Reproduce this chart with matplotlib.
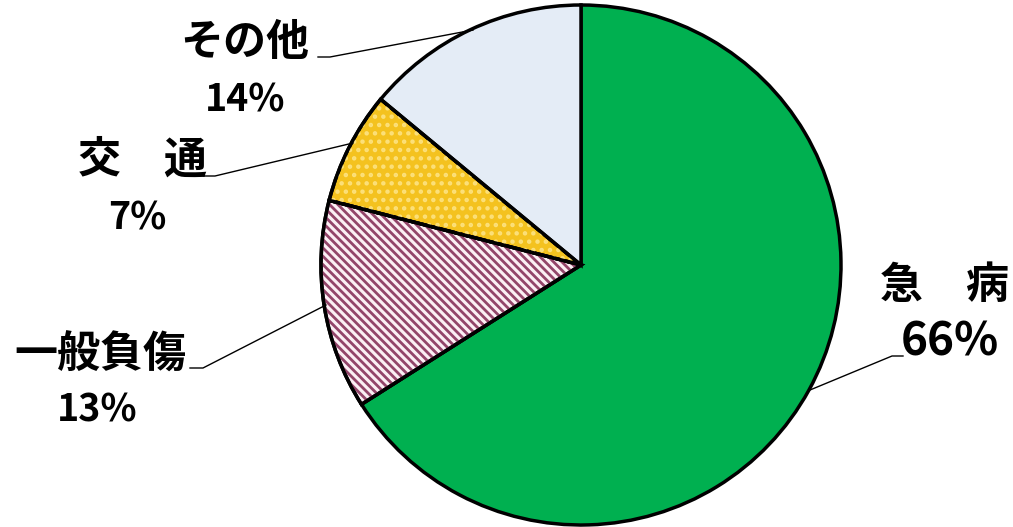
import matplotlib.pyplot as plt
import matplotlib as mpl

mpl.rcParams['font.family'] = ['Noto Sans CJK JP', 'DejaVu Sans']
mpl.rcParams['hatch.linewidth'] = 2.0

labels = ['急　病', '一般負傷', '交　通', 'その他']
values = [66, 13, 7, 14]
pct_text = ['66%', '13%', '7%', '14%']

colors = ['#00B050', '#FBEFF4', '#F4C21F', '#E4ECF6']
hatches = [None, '\\\\\\\\', '..', None]
hatch_colors = [None, '#93456A', '#FCE07A', None]

# label placement (figure pixels, y from top)
name_pos = [(945, 285), (100, 355), (142, 160), (245, 42)]
pct_pos = [(950, 342), (97, 410), (137, 218), (245, 100)]
pct_size = [33, 27, 27, 27]
leaders = [
    [(810, 390), (892, 356), (903, 356)],
    [(326, 305), (203, 368), (190, 368)],
    [(353, 143), (215, 176), (204, 176)],
    [(473, 30), (330, 57), (318, 57)],
]

W, H = 1013, 527
fig = plt.figure(figsize=(W / 100, H / 100), dpi=100)
ax = fig.add_axes([0, 0, 1, 1])

wedges, _ = ax.pie(values, center=(581, H - 265), radius=260, startangle=90,
                   counterclock=False, colors=colors,
                   wedgeprops=dict(linewidth=2.5, edgecolor='black'),
                   frame=True)
ax.set_xlim(0, W)
ax.set_ylim(0, H)
ax.axis('off')

for w, h, hc in zip(wedges, hatches, hatch_colors):
    if h:
        # draw hatch in colour on top, then outline again
        p = mpl.patches.Wedge(w.center, w.r, w.theta1, w.theta2,
                              facecolor='none', edgecolor=hc, hatch=h,
                              linewidth=0)
        ax.add_patch(p)
        o = mpl.patches.Wedge(w.center, w.r, w.theta1, w.theta2,
                              facecolor='none', edgecolor='black', linewidth=2.5)
        ax.add_patch(o)

for name, pct, (nx, ny), (px, py), fs, pts in zip(labels, pct_text, name_pos,
                                                   pct_pos, pct_size, leaders):
    ax.text(nx, H - ny, name, ha='center', va='center', fontsize=31,
            fontweight='bold')
    ax.text(px, H - py, pct, ha='center', va='center', fontsize=fs,
            fontweight='bold', family=['Noto Sans CJK JP'])
    xs = [p[0] for p in pts]
    ys = [H - p[1] for p in pts]
    ax.plot(xs, ys, color='black', linewidth=1)

fig.savefig('out.png', dpi=100)
